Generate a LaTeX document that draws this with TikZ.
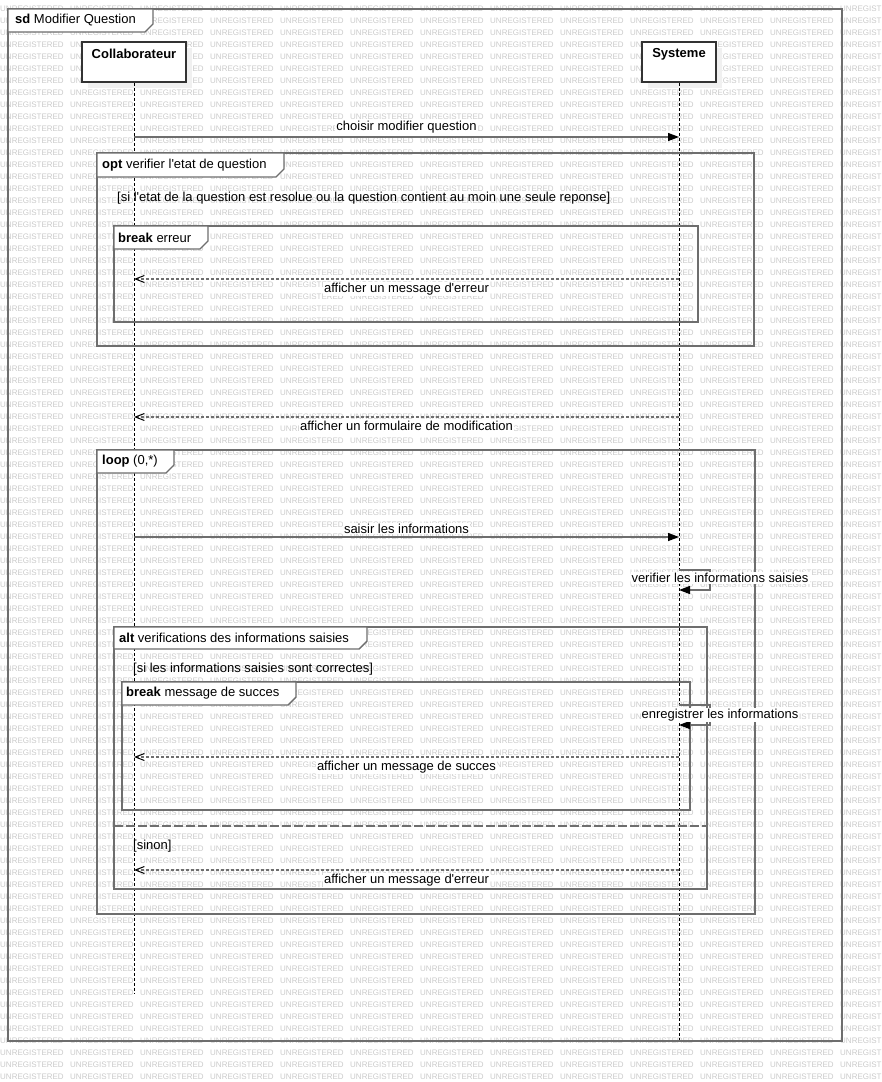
\documentclass[tikz,border=0pt]{standalone}
\usepackage{fontspec}
\setmainfont{Liberation Sans}[Ligatures=TeXOff]
\usetikzlibrary{arrows.meta,shadows}

\definecolor{framegray}{HTML}{6E6E6E}
\definecolor{wmgray}{HTML}{CACACA}

\tikzset{
  every node/.style={font=\fontsize{13}{15}\selectfont},
  wm/.style={anchor=west, inner sep=0pt, text=wmgray, font=\fontsize{8}{8}\selectfont},
  head/.style={draw=black!80, line width=1.5pt, fill=white, minimum height=40pt, inner sep=0pt,
    drop shadow={shadow xshift=6pt, shadow yshift=-6pt, fill=gray!12, opacity=1}},
  headtext/.style={anchor=center, yshift=-13pt, font=\fontsize{13}{15}\selectfont\bfseries},
  lifeline/.style={draw=black, line width=0.9pt, dash pattern=on 3pt off 2pt},
  frame/.style={draw=framegray, line width=1.4pt},
  fraglbl/.style={frame, fill=white},
  fragtext/.style={anchor=west, inner sep=0pt},
  guard/.style={anchor=west, inner sep=0pt},
  msg/.style={draw=framegray, line width=1.3pt, -{Triangle[length=11pt,width=8pt,color=black]}},
  reply/.style={draw=framegray, line width=1.2pt, dash pattern=on 3pt off 2pt,
    -{Straight Barb[length=9pt,width=7pt,color=black,line width=1pt]}},
  msglabel/.style={fill=white, inner sep=1pt}
}

\begin{document}
\begin{tikzpicture}[x=1pt, y=-1pt]
    \useasboundingbox (0,0) rectangle (882,1082);
    \clip (0,0) rectangle (882,1082);

    % watermark
    \foreach \r in {0,...,89} {
      \foreach \c in {0,...,12} {
        \node[wm] (wm-\r-\c) at (\c*70, 8.7+\r*12) {UNREGISTERED};
      }
    }

    % outer frame
    \draw[frame] (8,9) rectangle (842,1041);

    % lifelines
    \node[head, minimum width=104pt, label={[headtext]north:Collaborateur}] (colab) at (134,62) {};
    \node[head, minimum width=74pt, label={[headtext]north:Systeme}] (sys) at (679,62) {};
    \coordinate (colabEnd) at (134,993);
    \coordinate (sysEnd) at (679,1040);
    \draw[lifeline] (colab.south) -- (colabEnd);
    \draw[lifeline] (sys.south) -- (sysEnd);

    % combined fragments
    \draw[frame] (97,153) rectangle (754,346);   % opt
    \draw[frame] (114,226) rectangle (698,322);  % break
    \draw[frame] (97,450) rectangle (755,914);   % loop
    \draw[frame] (114,627) rectangle (707,889);  % alt
    \draw[frame] (122,682) rectangle (690,810);  % break
    \draw[frame, dash pattern=on 9pt off 3pt] (114,826) -- (707,826);

    % fragment labels
    \foreach \x/\y/\r/\b in {8/9/153/32, 97/153/284/177, 114/226/208/249,
                             97/450/174/473, 114/627/367/649, 122/682/296/705} {
      \draw[fraglbl] (\x,\y) -- (\r,\y) -- (\r,\b-8) -- (\r-8,\b) -- (\x,\b) -- cycle;
    }
    \node[fragtext] (sdlbl) at (15,20.5) {\textbf{sd} Modifier Question};
    \node[fragtext] (optlbl) at (102,165) {\textbf{opt} verifier l'etat de question};
    \node[fragtext] (brklbl) at (118,237.5) {\textbf{break} erreur};
    \node[fragtext] (looplbl) at (102,461.5) {\textbf{loop} (0,*)};
    \node[fragtext] (altlbl) at (119,638) {\textbf{alt} verifications des informations saisies};
    \node[fragtext] (brk2lbl) at (126,693.5) {\textbf{break} message de succes};

    % guards
    \node[guard] (g1) at (117,198) {[si l'etat de la question est resolue ou la question contient au moin une seule reponse]};
    \node[guard] (g2) at (133,669) {[si les informations saisies sont correctes]};
    \node[guard] (g3) at (133,846) {[sinon]};

    % messages
    \draw[msg] (colab.south |- 0,137) -- node[msglabel, above=2pt] (m1) {choisir modifier question} (sys.south |- 0,137);
    \draw[reply] (sys.south |- 0,279) -- node[msglabel, below=2pt] (m2) {afficher un message d'erreur} (colab.south |- 0,279);
    \draw[reply] (sys.south |- 0,417) -- node[msglabel, below=2pt] (m3) {afficher un formulaire de modification} (colab.south |- 0,417);
    \draw[msg] (colab.south |- 0,537) -- node[msglabel, above=2pt] (m4) {saisir les informations} (sys.south |- 0,537);

    % self messages
    \draw[msg] (sys.south |- 0,570) -- ++(31,0) |- (sys.south |- 0,590);
    \node[msglabel] (m5) at (720,578) {verifier les informations saisies};
    \draw[msg] (sys.south |- 0,705) -- ++(31,0) |- (sys.south |- 0,725);
    \node[msglabel] (m6) at (720,715) {enregistrer les informations};

    \draw[reply] (sys.south |- 0,757) -- node[msglabel, below=2pt] (m7) {afficher un message de succes} (colab.south |- 0,757);
    \draw[reply] (sys.south |- 0,870) -- node[msglabel, below=2pt] (m8) {afficher un message d'erreur} (colab.south |- 0,870);
\end{tikzpicture}
\end{document}
